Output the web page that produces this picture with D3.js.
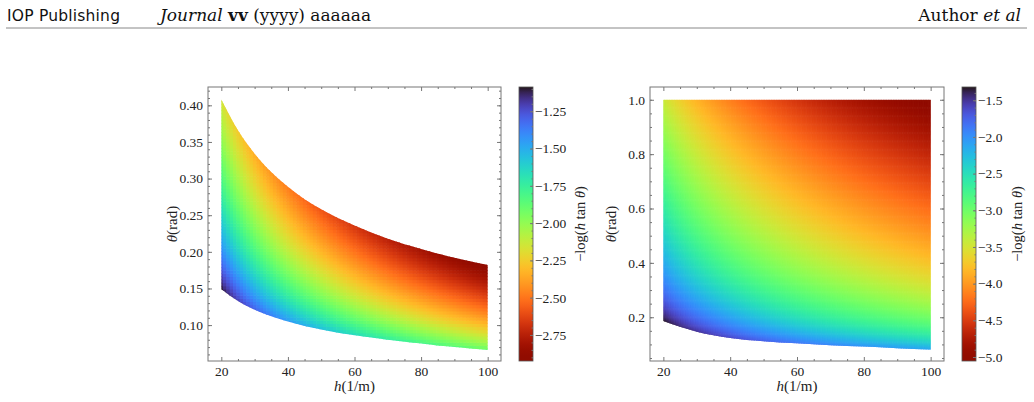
<!DOCTYPE html>
<html lang="en">
<head>
<meta charset="utf-8">
<script src="https://d3js.org/d3.v7.min.js"></script>
<title>-log(h tan θ) maps</title>
<style>
  body { margin: 0; background: #fff; }
  svg { display: block; }
  .tick text { font-family: "Liberation Serif", "DejaVu Serif", serif; font-size: 13.5px; fill: #222; }
  .tick line { stroke: #777; }
  .lbl { font-family: "Liberation Serif", "DejaVu Serif", serif; fill: #222; }
  .hdr { font-family: "DejaVu Serif", serif; fill: #111; font-size: 17px; }
</style>
</head>
<body>
<svg width="1034" height="402"></svg>
<script>
var boundH   = [20, 25, 30, 40, 50, 60, 70, 80, 90, 100];
var leftLow  = [0.149, 0.133, 0.121, 0.105, 0.094, 0.086, 0.080, 0.075, 0.070, 0.066];
var leftUp   = [0.408, 0.366, 0.334, 0.289, 0.258, 0.236, 0.218, 0.204, 0.192, 0.182];
var rightLow = [0.186, 0.165, 0.147, 0.124, 0.112, 0.104, 0.097, 0.092, 0.086, 0.081];
var rightUp  = [1.0, 1.0, 1.0, 1.0, 1.0, 1.0, 1.0, 1.0, 1.0, 1.0];

// ticks
var hTicks       = [20, 40, 60, 80, 100];
var leftThTicks  = [0.10, 0.15, 0.20, 0.25, 0.30, 0.35, 0.40];
var rightThTicks = [0.2, 0.4, 0.6, 0.8, 1.0];
var leftCbTicks  = [-1.25, -1.50, -1.75, -2.00, -2.25, -2.50, -2.75];
var rightCbTicks = [-1.5, -2.0, -2.5, -3.0, -3.5, -4.0, -4.5, -5.0];

var svg = d3.select("svg");

// header of the page
svg.append("text").attr("x", 7).attr("y", 21)
  .style("font-family", "'DejaVu Sans', sans-serif").style("font-size", "15.5px").attr("fill", "#111")
  .attr("textLength", 113).attr("lengthAdjust", "spacing")
  .text("IOP Publishing");
var jt = svg.append("text").attr("class", "hdr").attr("x", 160).attr("y", 21);
jt.append("tspan").style("font-style", "italic").text("Journal ");
jt.append("tspan").style("font-weight", "bold").text("vv");
jt.append("tspan").text(" (yyyy) aaaaaa");
var au = svg.append("text").attr("class", "hdr").attr("x", 1021).attr("y", 21)
  .attr("text-anchor", "end");
au.append("tspan").text("Author ");
au.append("tspan").style("font-style", "italic").text("et al");
svg.append("line").attr("x1", 6).attr("x2", 1027).attr("y1", 28).attr("y2", 28)
  .attr("stroke", "#888").attr("stroke-width", 1);

function field(h, th) { return -Math.log(h * Math.tan(th)); }

function panel(cfg) {
  var g = svg.append("g");
  var x = d3.scaleLinear().domain([16, 104]).range([cfg.left, cfg.right]);
  var y = d3.scaleLinear().domain(cfg.yDom).range([cfg.bottom, cfg.top]);

  var vals = [];
  boundH.forEach(function(h, i) {
    vals.push(field(h, cfg.low[i]), field(h, cfg.up[i]));
  });
  var ext = d3.extent(vals);
  var vmin = ext[0] - cfg.pad, vmax = ext[1] + cfg.pad;
  var color = d3.scaleSequential(function(t) { return d3.interpolateTurbo(1 - t); })
    .domain([vmin, vmax]);

  // clip region from boundary curves
  var area = d3.area()
    .x(function(d) { return x(d.h); })
    .y0(function(d) { return y(d.lo); })
    .y1(function(d) { return y(d.hi); })
    .curve(d3.curveMonotoneX);
  var pts = boundH.map(function(h, i) { return {h: h, lo: cfg.low[i], hi: cfg.up[i]}; });
  g.append("clipPath").attr("id", cfg.id)
    .append("path").attr("d", area(pts));

  // heatmap cells
  var thMin = d3.min(cfg.low), thMax = d3.max(cfg.up);
  var cells = [];
  for (var h = 20; h <= 100 + 1e-9; h += cfg.dh) {
    for (var k = 0; k <= cfg.nTh; k++) {
      var th = thMin + (thMax - thMin) * k / cfg.nTh;
      cells.push({h: h, th: th, v: field(h, th)});
    }
  }
  var cw = x(cfg.dh) - x(0), chh = y(0) - y((thMax - thMin) / cfg.nTh);
  g.append("g").attr("clip-path", "url(#" + cfg.id + ")")
    .selectAll("rect").data(cells).enter().append("rect")
    .attr("x", function(d) { return x(d.h) - cw / 2; })
    .attr("y", function(d) { return y(d.th) - chh / 2; })
    .attr("width", cw + 0.6).attr("height", chh + 0.6)
    .attr("fill", function(d) { return color(d.v); });

  // frame with inward ticks
  var fmtY = d3.format(cfg.yFmt);
  var ax = [
    {a: d3.axisBottom(x).tickValues(hTicks).tickFormat(d3.format("d")), t: "translate(0," + cfg.bottom + ")"},
    {a: d3.axisTop(x).tickValues(hTicks).tickFormat(""), t: "translate(0," + cfg.top + ")"},
    {a: d3.axisLeft(y).tickValues(cfg.yTicks).tickFormat(fmtY), t: "translate(" + cfg.left + ",0)"},
    {a: d3.axisRight(y).tickValues(cfg.yTicks).tickFormat(""), t: "translate(" + cfg.right + ",0)"}
  ];
  ax.forEach(function(o) {
    g.append("g").attr("transform", o.t)
      .call(o.a.tickSizeInner(-4).tickSizeOuter(0).tickPadding(5))
      .call(function(s) { s.select(".domain").remove(); });
  });
  var minorX = d3.range(20, 101, 5).filter(function(v) { return v % 20 !== 0; });
  var minorY = d3.range(cfg.yDom[0], cfg.yDom[1], cfg.yMinor)
    .map(function(v) { return Math.round(v / cfg.yMinor) * cfg.yMinor; })
    .filter(function(v) { return v >= cfg.yDom[0] && v <= cfg.yDom[1]; });
  [[d3.axisBottom(x).tickValues(minorX), cfg.bottom, 0], [d3.axisTop(x).tickValues(minorX), cfg.top, 0],
   [d3.axisLeft(y).tickValues(minorY), cfg.left, 1], [d3.axisRight(y).tickValues(minorY), cfg.right, 1]]
    .forEach(function(o) {
      g.append("g").attr("transform", o[2] ? "translate(" + o[1] + ",0)" : "translate(0," + o[1] + ")")
        .call(o[0].tickFormat("").tickSizeInner(-2).tickSizeOuter(0))
        .call(function(s) { s.select(".domain").remove(); });
    });
  g.append("rect").attr("x", cfg.left).attr("y", cfg.top)
    .attr("width", cfg.right - cfg.left).attr("height", cfg.bottom - cfg.top)
    .attr("fill", "none").attr("stroke", "#777").attr("stroke-width", 1);

  // axis titles
  var xt = g.append("text").attr("class", "lbl").attr("x", (cfg.left + cfg.right) / 2).attr("y", 391)
    .attr("text-anchor", "middle").style("font-size", "15px");
  xt.append("tspan").style("font-style", "italic").text("h");
  xt.append("tspan").text("(1/m)");
  var yt = g.append("text").attr("class", "lbl")
    .attr("transform", "translate(" + cfg.yTitleX + "," + ((cfg.top + cfg.bottom) / 2) + ") rotate(-90)")
    .attr("text-anchor", "middle").style("font-size", "15px");
  yt.append("tspan").style("font-style", "italic").text("θ");
  yt.append("tspan").text("(rad)");

  // colorbar
  var cb = cfg.cb;
  var cy = d3.scaleLinear().domain([vmin, vmax]).range([cfg.bottom, cfg.top]);
  var grad = g.append("linearGradient").attr("id", cfg.id + "g")
    .attr("x1", 0).attr("y1", 1).attr("x2", 0).attr("y2", 0);
  d3.range(0, 1.0001, 0.02).forEach(function(t) {
    grad.append("stop").attr("offset", t).attr("stop-color", color(vmin + t * (vmax - vmin)));
  });
  g.append("rect").attr("x", cb).attr("y", cfg.top).attr("width", 14).attr("height", cfg.bottom - cfg.top)
    .attr("fill", "url(#" + cfg.id + "g)").attr("stroke", "#555").attr("stroke-width", 0.8);
  g.append("g").attr("transform", "translate(" + (cb + 14) + ",0)")
    .call(d3.axisRight(cy).tickValues(cfg.cbTicks).tickFormat(d3.format(cfg.cbFmt))
      .tickSizeInner(-3).tickSizeOuter(0).tickPadding(2))
    .call(function(s) { s.select(".domain").remove(); });
  var cbMinor = d3.range(Math.ceil(vmin / cfg.cbMinor), Math.floor(vmax / cfg.cbMinor) + 1)
    .map(function(k) { return k * cfg.cbMinor; });
  g.append("g").attr("transform", "translate(" + (cb + 14) + ",0)")
    .call(d3.axisRight(cy).tickValues(cbMinor).tickFormat("").tickSizeInner(-1.5).tickSizeOuter(0))
    .call(function(s) { s.select(".domain").remove(); s.selectAll("line").attr("stroke", "#444"); });
  var ct = g.append("text").attr("class", "lbl")
    .attr("transform", "translate(" + cfg.cbTitleX + "," + ((cfg.top + cfg.bottom) / 2) + ") rotate(-90)")
    .attr("text-anchor", "middle").style("font-size", "14.5px");
  ct.append("tspan").text("−log(");
  ct.append("tspan").style("font-style", "italic").text("h");
  ct.append("tspan").text(" tan ");
  ct.append("tspan").style("font-style", "italic").text("θ");
  ct.append("tspan").text(")");
}

panel({
  id: "pl", left: 208, right: 501, top: 87, bottom: 361,
  yDom: [0.051, 0.425], yTicks: leftThTicks, yFmt: ".2f", yMinor: 0.01,
  low: leftLow, up: leftUp, dh: 1, nTh: 80, pad: 0.012,
  cb: 519, cbTicks: leftCbTicks, cbFmt: ".2f", cbMinor: 0.05,
  yTitleX: 177, cbTitleX: 585
});
panel({
  id: "pr", left: 650, right: 944, top: 87, bottom: 361,
  yDom: [0.039, 1.047], yTicks: rightThTicks, yFmt: ".1f", yMinor: 0.05,
  low: rightLow, up: rightUp, dh: 0.5, nTh: 220, pad: 0.006,
  cb: 962, cbTicks: rightCbTicks, cbFmt: ".1f", cbMinor: 0.1,
  yTitleX: 616, cbTitleX: 1022
});
</script>
</body>
</html>
